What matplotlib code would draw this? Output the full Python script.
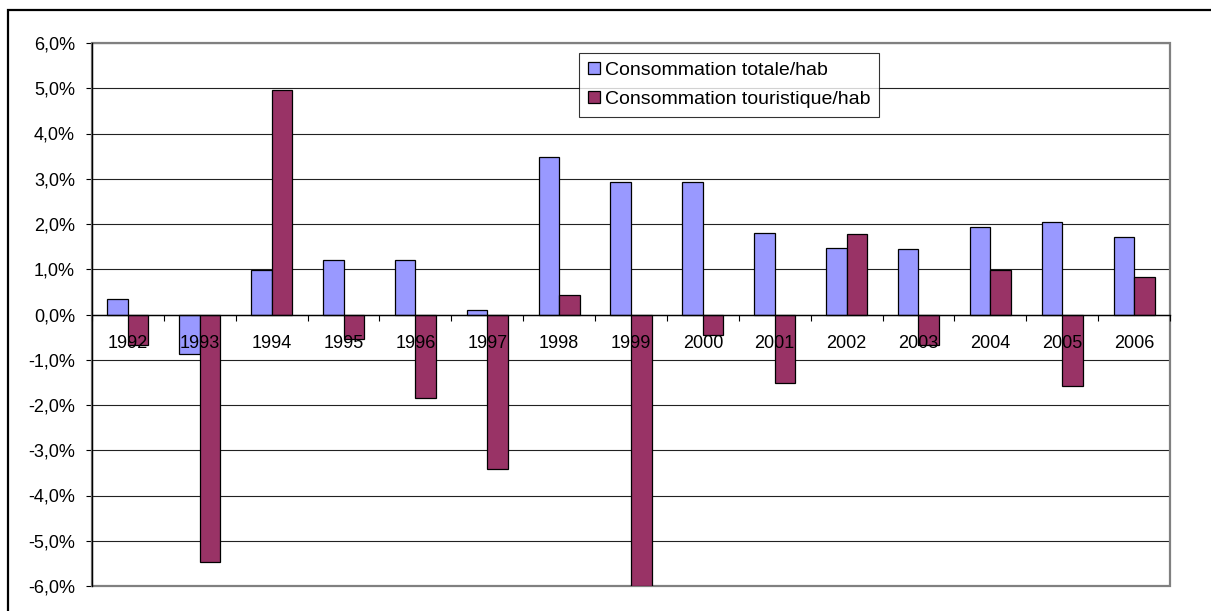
import matplotlib.pyplot as plt
import numpy as np
from matplotlib.patches import Rectangle
from matplotlib.ticker import FuncFormatter, MultipleLocator, FixedLocator

plt.rcParams['font.family'] = ['Liberation Sans', 'DejaVu Sans']

years = ['1992', '1993', '1994', '1995', '1996', '1997', '1998', '1999',
         '2000', '2001', '2002', '2003', '2004', '2005', '2006']
# en %
conso_totale = [0.34, -0.88, 0.98, 1.21, 1.21, 0.11, 3.47, 2.93,
                2.93, 1.80, 1.48, 1.44, 1.93, 2.04, 1.71]
conso_touristique = [-0.68, -5.47, 4.97, -0.55, -1.85, -3.41, 0.42, -6.0,
                     -0.45, -1.52, 1.77, -0.68, 0.98, -1.58, 0.82]
labels = ['Consommation totale/hab', 'Consommation touristique/hab']

fig = plt.figure(figsize=(12.11, 6.11), dpi=100)
ax = fig.add_axes([92 / 1211, 1 - 586 / 611, (1170 - 92) / 1211, (586 - 43) / 611])

x = np.arange(len(years))
w = 1 / 3.5
ax.bar(x - w / 2, conso_totale, w, color='#9999FF', edgecolor='black', lw=0.9, label=labels[0], zorder=2)
ax.bar(x + w / 2, conso_touristique, w, color='#993366', edgecolor='black', lw=0.9, label=labels[1], zorder=2)

ax.set_xlim(-0.5, len(years) - 0.5)
ax.set_ylim(-6, 6)

# axe des valeurs
ax.yaxis.set_major_locator(MultipleLocator(1))
ax.yaxis.set_major_formatter(FuncFormatter(lambda v, p: f'{v:.1f}%'.replace('.', ',')))
ax.tick_params(axis='y', direction='out', length=4.3, width=0.8, pad=8, labelsize=13, colors='black')
ax.yaxis.grid(True, color='#222222', lw=0.8)
ax.set_axisbelow(True)

# axe des categories sur la ligne 0
ax.spines['bottom'].set_position(('data', 0))
ax.spines['bottom'].set_linewidth(1.0)
ax.xaxis.set_major_locator(FixedLocator(x))
ax.set_xticklabels(years)
ax.xaxis.set_minor_locator(FixedLocator(np.arange(len(years) + 1) - 0.5))
ax.tick_params(axis='x', which='major', length=0, pad=14.5, labelsize=13)
ax.tick_params(axis='x', which='minor', direction='out', length=4.3, width=0.8)
ax.xaxis.set_zorder(3)

ax.spines['left'].set_color('black')
ax.spines['left'].set_linewidth(1.0)
ax.spines['top'].set_visible(False)
ax.spines['right'].set_visible(False)
ax.add_patch(Rectangle((0, 0), 1, 1, transform=ax.transAxes, fill=False,
                       edgecolor='#808080', lw=1.6, zorder=1.5, clip_on=False))

leg = ax.legend(loc='upper left', bbox_to_anchor=(579 / 1211, 1 - 53 / 611),
                bbox_transform=fig.transFigure, fontsize=14, frameon=True,
                fancybox=False, handlelength=0.62, handleheight=0.58,
                handletextpad=0.26, borderpad=0.45, labelspacing=0.62, borderaxespad=0)
leg.get_frame().set_edgecolor('black')
leg.get_frame().set_linewidth(0.8)

# cadre du graphique
fig.patches.append(Rectangle((8 / 1211, -0.1), 1.2, 1.1 - 10 / 611, transform=fig.transFigure,
                             fill=False, edgecolor='black', lw=1.6))

fig.savefig('out.png', dpi=100)
